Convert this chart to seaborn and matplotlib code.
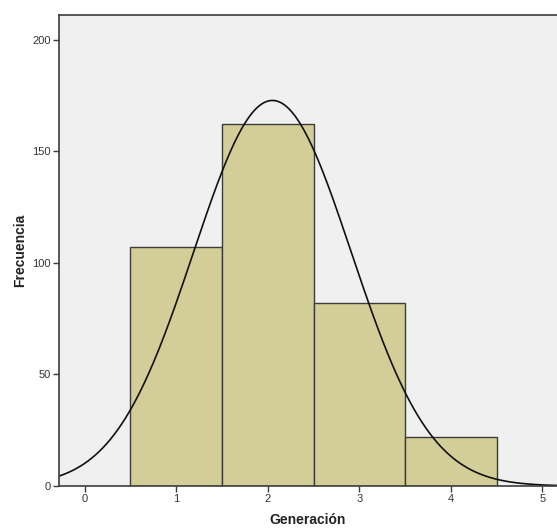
import numpy as np
import pandas as pd
import matplotlib
matplotlib.use("Agg")
import matplotlib.pyplot as plt
import seaborn as sns

generaciones = [1, 2, 3, 4]
frecuencias = [107, 162, 82, 22]

x_ticks = [0, 1, 2, 3, 4, 5]
y_ticks = [0, 50, 100, 150, 200]

sns.set_theme(style="white")
plt.rcParams['font.family'] = ['Liberation Sans', 'DejaVu Sans']

df = pd.DataFrame({"Generación": generaciones, "Frecuencia": frecuencias})

fig = plt.figure(figsize=(5.57, 5.28), dpi=100)
ax = fig.add_axes([0.106, 0.0795, 0.894, 0.892])
ax.set_facecolor("#f0f0f0")

sns.histplot(data=df, x="Generación", weights="Frecuencia", discrete=True,
             color="#d3ce97", edgecolor="#3c3c3c", linewidth=1.0, alpha=1.0, ax=ax)

# curva normal ajustada (media y desviación a partir de las frecuencias)
vals = np.repeat(generaciones, frecuencias)
n = len(vals)
mu = vals.mean()
sd = vals.std(ddof=1)
xs = np.linspace(-0.3, 5.2, 400)
ys = n * 1.0 / (sd * np.sqrt(2 * np.pi)) * np.exp(-0.5 * ((xs - mu) / sd) ** 2)
sns.lineplot(x=xs, y=ys, color="#111111", linewidth=1.2, ax=ax)

ax.set_xlim(-0.28, 5.16)
ax.set_ylim(0, 211)
ax.set_xticks(x_ticks)
ax.set_yticks(y_ticks)
ax.tick_params(axis="both", which="both", direction="out", length=4, width=1,
               color="#3c3c3c", labelsize=8, labelcolor="#333333", pad=2,
               left=True, bottom=True)

for side in ["left", "bottom", "top"]:
    ax.spines[side].set_visible(True)
    ax.spines[side].set_color("#3c3c3c")
    ax.spines[side].set_linewidth(1.2)
ax.spines["right"].set_visible(False)

ax.set_xlabel("Generación", fontsize=10, fontweight="bold", color="#222222", labelpad=6)
ax.set_ylabel("Frecuencia", fontsize=10, fontweight="bold", color="#222222", labelpad=4)

fig.savefig("out.png", dpi=100)
